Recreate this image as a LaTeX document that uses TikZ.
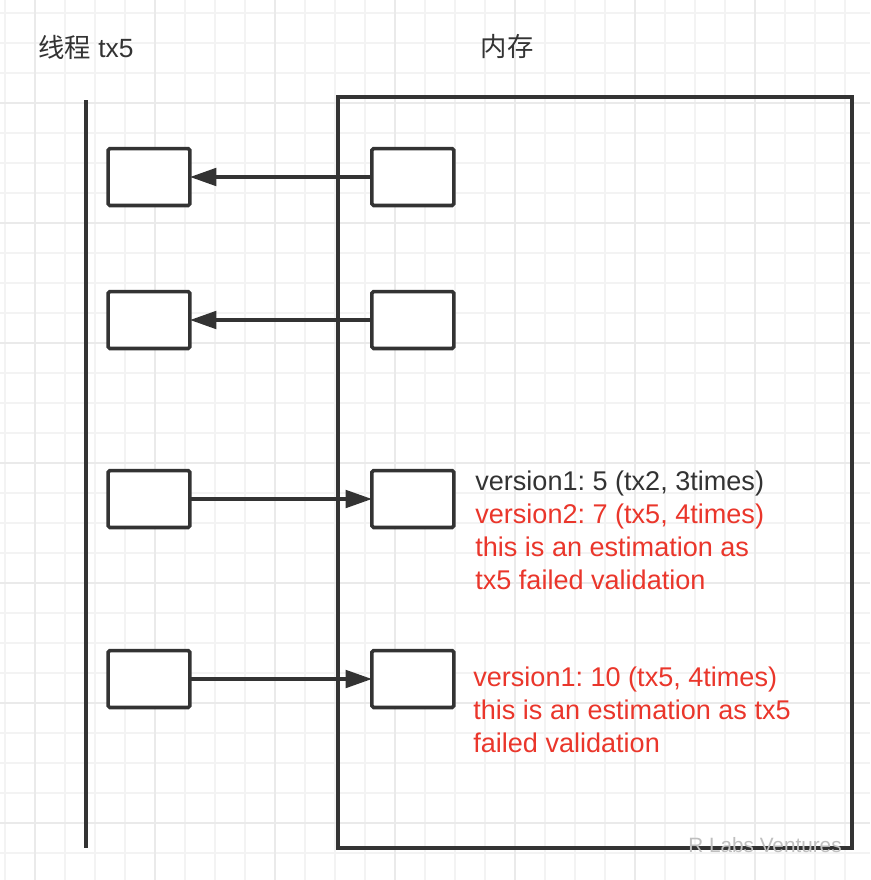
\documentclass[tikz,border=0pt]{standalone}
\usepackage{fontspec}
\setmainfont{Liberation Sans}
\newfontfamily\cjk{Noto Sans CJK SC}
\usepackage{xcolor}
\usetikzlibrary{arrows.meta, positioning}
\definecolor{ink}{RGB}{51,51,51}
\definecolor{alert}{RGB}{234,54,43}
\definecolor{gridminor}{RGB}{243,243,243}
\definecolor{gridmajor}{RGB}{234,234,234}
\frenchspacing

\begin{document}
\begin{tikzpicture}[
  x=0.02cm, y=-0.02cm,
  node distance=3.64cm,
  cell/.style={draw=ink, line width=2pt, rounded corners=1pt, fill=white,
               minimum width=1.64cm, minimum height=1.14cm, outer sep=0pt, inner sep=0pt},
  memory/.style={draw=ink, line width=2pt, minimum width=10.28cm, minimum height=15.02cm,
                 outer sep=0pt, inner sep=0pt},
  title/.style={font=\fontsize{15}{18}\selectfont, text=ink, inner sep=0pt},
  note/.style={font=\fontsize{15.4}{18.7}\selectfont, align=left, inner sep=0pt},
  arr/.style={-{Triangle[length=15pt, width=10pt]}, line width=1.9pt, draw=ink}
]
  \useasboundingbox[fill=white] (0,0) rectangle (870,880);

  % background grid
  \foreach \gx in {5,35,...,865} \draw[gridminor, line width=0.9pt] (\gx,0) -- (\gx,880);
  \foreach \gy in {13,43,...,873} \draw[gridminor, line width=0.9pt] (0,\gy) -- (870,\gy);
  \foreach \gx in {35,155,...,755} \draw[gridmajor, line width=1.1pt] (\gx,0) -- (\gx,880);
  \foreach \gy in {103,223,...,823} \draw[gridmajor, line width=1.1pt] (0,\gy) -- (870,\gy);

  % headings
  \node[title, anchor=base west] (thread) at (38,57) {{\cjk 线程} tx5};
  \node[title, anchor=base] (memtitle) at (507,56) {\cjk 内存};

  % thread line and memory block
  \draw[ink, line width=2pt] (86,100) -- (86,848);
  \node[memory, anchor=north west] (mem) at (338,97) {};

  % thread-local copies and memory cells
  \node[cell] (t1) at (149,177) {};
  \node[cell] (t2) at (149,320) {};
  \node[cell] (t3) at (149,499) {};
  \node[cell] (t4) at (149,679) {};
  \node[cell, right=of t1] (m1) {};
  \node[cell, right=of t2] (m2) {};
  \node[cell, right=of t3] (m3) {};
  \node[cell, right=of t4] (m4) {};

  \draw[arr] (m1) -- (t1);
  \draw[arr] (m2) -- (t2);
  \draw[arr] (t3) -- (m3);
  \draw[arr] (t4) -- (m4);

  % version notes (base = last line)
  \node[note, anchor=base west] (v3) at (475,589) {\textcolor{ink}{version1: 5 (tx2, 3times)}\\
    \textcolor{alert}{version2: 7 (tx5, 4times)}\\
    \textcolor{alert}{this is an estimation as}\\
    \textcolor{alert}{tx5 failed validation}};
  \node[note, anchor=base west, text=alert] (v4) at (473,752) {version1: 10 (tx5, 4times)\\
    this is an estimation as tx5\\
    failed validation};

  \node[font=\fontsize{11.8}{14}\selectfont, text=gray!50, anchor=base west, inner sep=0pt] (mark) at (688,852) {R Labs Ventures};
\end{tikzpicture}
\end{document}
